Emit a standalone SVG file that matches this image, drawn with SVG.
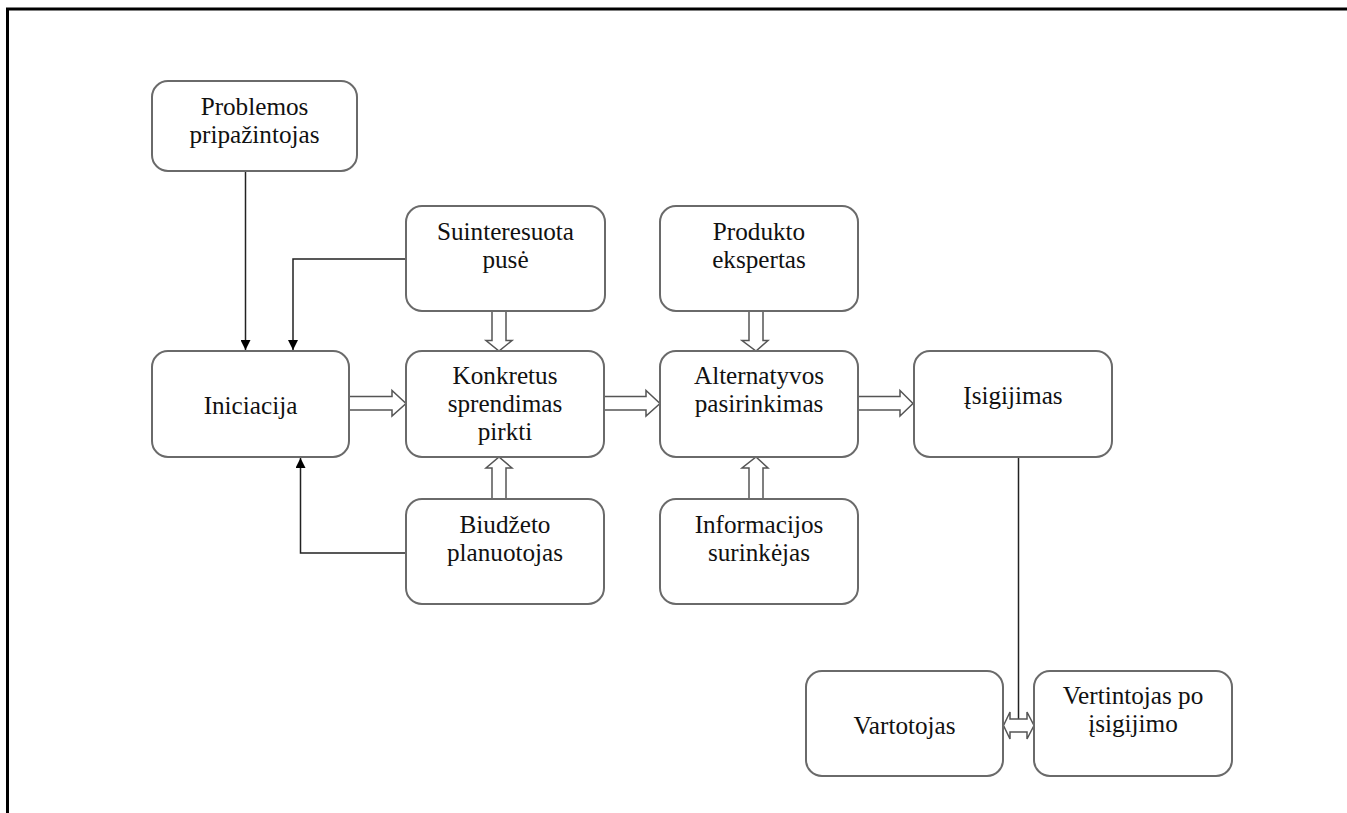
<svg xmlns="http://www.w3.org/2000/svg" width="1347" height="813" viewBox="0 0 1347 813">
  <style>
    .box { fill: #ffffff; stroke: #6a6a6a; stroke-width: 2; }
    .lbl { font-family: "Liberation Serif", "Times New Roman", serif; font-size: 25.2px; fill: #111111; text-anchor: middle; }
    .line { fill: none; stroke: #222222; stroke-width: 1.5; }
    .block { fill: #ffffff; stroke: #555555; stroke-width: 1.5; stroke-linejoin: miter; }
    .frame { fill: none; stroke: #000000; stroke-width: 3; }
  </style>
  <defs>
    <marker id="tip" viewBox="0 0 10 10" refX="10" refY="5" markerWidth="10" markerHeight="10" markerUnits="userSpaceOnUse" orient="auto">
      <path d="M0,0 L10,5 L0,10 Z" fill="#000000"/>
    </marker>
  </defs>

  <rect x="0" y="0" width="1347" height="813" fill="#ffffff"/>
  <!-- page frame: only the top and left edges fall inside the view -->
  <rect class="frame" x="7.5" y="9" width="1360" height="830"/>

  <g id="connectors">
    <!-- thin connectors with solid heads -->
    <path class="line" d="M245.5,171 V350" marker-end="url(#tip)"/>
    <path class="line" d="M406,259 H293 V350" marker-end="url(#tip)"/>
    <path class="line" d="M406,553 H300.5 V458" marker-end="url(#tip)"/>
    <path class="line" d="M1018.5,457 V719"/>

    <!-- hollow block arrows, horizontal -->
    <polygon class="block" points="349,396.5 392,396.5 392,390.5 406,403.5 392,416 392,410 349,410"/>
    <polygon class="block" points="604,396.5 646,396.5 646,390.5 660,403.5 646,416 646,410 604,410"/>
    <polygon class="block" points="858,396.5 900,396.5 900,390.5 913,403.5 900,416 900,410 858,410"/>

    <!-- hollow block arrows, downward -->
    <polygon class="block" points="492,311 492,340.5 486,340.5 499,351 512,340.5 506,340.5 506,311"/>
    <polygon class="block" points="749,311 749,340.5 742,340.5 756,351 768,340.5 763,340.5 763,311"/>

    <!-- hollow block arrows, upward -->
    <polygon class="block" points="492,499 492,468 486,468 499,457 512,468 506,468 506,499"/>
    <polygon class="block" points="749,499 749,468 742,468 756,457 768,468 763,468 763,499"/>

    <!-- hollow double-headed arrow between the two lower boxes -->
    <polygon class="block" points="1003.5,725.5 1010,712 1010,719 1027,719 1027,712 1034,725.5 1027,739 1027,732 1010,732 1010,739"/>
  </g>

  <g id="n-problemos">
    <rect class="box" x="152" y="81" width="205" height="90" rx="16"/>
    <text class="lbl" x="254.5" y="114.5">Problemos</text>
    <text class="lbl" x="254.5" y="142.5">pripažintojas</text>
  </g>

  <g id="n-suinteresuota">
    <rect class="box" x="406" y="206" width="199" height="105" rx="16"/>
    <text class="lbl" x="505.5" y="239.5">Suinteresuota</text>
    <text class="lbl" x="505.5" y="267.5">pusė</text>
  </g>

  <g id="n-produkto">
    <rect class="box" x="660" y="206" width="198" height="105" rx="16"/>
    <text class="lbl" x="759" y="239.5">Produkto</text>
    <text class="lbl" x="759" y="267.5">ekspertas</text>
  </g>

  <g id="n-iniciacija">
    <rect class="box" x="152" y="351" width="197" height="106" rx="16"/>
    <text class="lbl" x="250.5" y="414">Iniciacija</text>
  </g>

  <g id="n-konkretus">
    <rect class="box" x="406" y="351" width="198" height="106" rx="16"/>
    <text class="lbl" x="505" y="383.5">Konkretus</text>
    <text class="lbl" x="505" y="411.5">sprendimas</text>
    <text class="lbl" x="505" y="439.5">pirkti</text>
  </g>

  <g id="n-alternatyvos">
    <rect class="box" x="660" y="351" width="198" height="106" rx="16"/>
    <text class="lbl" x="759" y="383.5">Alternatyvos</text>
    <text class="lbl" x="759" y="411.5">pasirinkimas</text>
  </g>

  <g id="n-isigijimas">
    <rect class="box" x="914" y="351" width="198" height="106" rx="16"/>
    <text class="lbl" x="1013" y="403.5">Įsigijimas</text>
  </g>

  <g id="n-biudzeto">
    <rect class="box" x="406" y="499" width="198" height="105" rx="16"/>
    <text class="lbl" x="505" y="533">Biudžeto</text>
    <text class="lbl" x="505" y="561">planuotojas</text>
  </g>

  <g id="n-informacijos">
    <rect class="box" x="660" y="499" width="198" height="105" rx="16"/>
    <text class="lbl" x="759" y="533">Informacijos</text>
    <text class="lbl" x="759" y="561">surinkėjas</text>
  </g>

  <g id="n-vartotojas">
    <rect class="box" x="806" y="671" width="197" height="105" rx="16"/>
    <text class="lbl" x="904.5" y="734">Vartotojas</text>
  </g>

  <g id="n-vertintojas">
    <rect class="box" x="1034" y="671" width="198" height="105" rx="16"/>
    <text class="lbl" x="1133" y="704">Vertintojas po</text>
    <text class="lbl" x="1133" y="732">įsigijimo</text>
  </g>
</svg>
